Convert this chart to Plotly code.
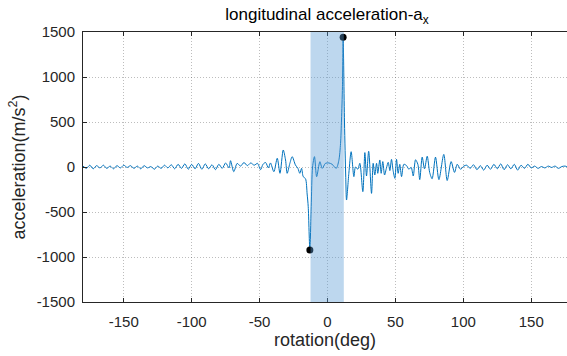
import plotly.graph_objects as go

# rotation (deg) and longitudinal acceleration (m/s^2)
rotation = [
    -180, -177.5, -175, -172.5, -170, -167.5, -165, -162.5, -160, -157.5,
    -155, -152.5, -150, -147.5, -145, -142.5, -140, -137.5, -135, -132.5,
    -130, -127.5, -125, -122.5, -120, -117.5, -115, -112.5, -110, -107.5,
    -105, -102.5, -100, -97.5, -95, -92.5, -90, -87.5, -85, -82.5,
    -80, -77.5, -75, -72.5, -71.4, -69, -66.5, -64, -61.5, -59, -56.5, -54, -51.5,
    -49.3, -47.5, -45.6, -43.5, -42, -39.5, -37, -35, -32.6, -30.9,
    -29.7, -27.7, -26, -23.6, -21.8, -20.4, -19.1, -17.9, -16.2, -15,
    -14.2, -13, -12, -11, -9.6, -8, -5.6, -3.9, -1.5, 1,
    3.4, 6.4, 8.3, 9.6, 10.3, 11, 11.5, 12.5, 13.4, 14,
    15.7, 17.4, 19.4, 20.6, 22.3, 23.8, 26, 27.5, 28.7, 30.3,
    32.4, 33.6, 34.8, 36.1, 37, 38.5, 39.5, 40.7, 42, 43.4,
    44.7, 45.9, 47.1, 48.3, 49.6, 50.8, 52, 53.2, 54.5, 56.2,
    58.2, 59.9, 61.6, 63.1, 64.8, 66.5, 67.9, 69.7, 71.4, 73.4,
    75.2, 77, 79.5, 82, 85.6, 88.1, 91, 93.5, 95.5, 97.9,
    100.3, 102.5, 105, 107.5, 110, 112.5, 115, 117.5, 120, 122.5,
    125, 127.5, 130, 132.5, 135, 137.5, 140, 142.5, 145, 147.5,
    150, 152.5, 155, 157.5, 160, 162.5, 165, 167.5, 170, 172.5,
    175, 177.5, 180,
]
acceleration = [
    10, -15, 20, -20, 15, -10, 20, -15, 10, -20,
    15, -10, 20, -5, 15, -15, 10, -20, 15, -10,
    5, -25, 10, -15, 20, -10, 25, -20, 30, -15,
    35, -25, 30, -20, 40, -25, 35, -20, 25, -30,
    30, -15, 45, -10, 70, -52, 40, 10, 50, 15, 45, 20, 40,
    -30, 30, 50, -10, 45, -52, 97, -70, 189, 78,
    -70, 41, 115, 22, -15, -70, -15, -107, -130, -300,
    -441, -922, -441, 0, 115, -107, 59, -15, 41, 45,
    30, -15, 70, 263, 522, 892, 1441, 500, -100, -367,
    -70, 170, -107, 0, -25, 41, -274, 160, -100, 175,
    -293, 41, -89, 41, -70, 78, -70, 60, -89, -10,
    52, -40, 85, -40, -126, 85, -70, 30, -107, 30,
    15, -25, -5, -100, 80, 30, -140, 110, -20, 120,
    -60, -130, 110, -140, 140, -150, 60, -60, 30, -25,
    10, 20, -15, 25, -30, 15, -35, 20, -25, 30,
    -20, 35, -30, 25, -20, 30, -35, 20, -15, 30,
    -10, 10, -15, 5, -10, 10, -5, 10, -15, 5,
    10, -5, 5,
]

# highlighted rotation window and extreme points
window_deg = [-12.5, 12]
extreme_rot = [-13, 11.5]
extreme_acc = [-922, 1441]

x_ticks = [-150, -100, -50, 0, 50, 100, 150]
x_tick_text = ["-150", "-100", "-50", "0", "50", "100", "150"]
y_ticks = [-1500, -1000, -500, 0, 500, 1000, 1500]
y_tick_text = ["-1500", "-1000", "-500", "0", "500", "1000", "1500"]

axis_col = "#262626"
grid_col = "rgba(38,38,38,0.3)"
font_fam = "Liberation Sans, Arial, sans-serif"

fig = go.Figure()
fig.add_trace(go.Scatter(
    x=rotation, y=acceleration, mode="lines",
    line=dict(color="#0072BD", width=1, shape="spline", smoothing=0.8),
    showlegend=False, hoverinfo="skip",
))
fig.add_trace(go.Scatter(
    x=extreme_rot, y=extreme_acc, mode="markers",
    marker=dict(color="black", size=7),
    showlegend=False,
))

fig.add_shape(
    type="rect", xref="x", yref="y",
    x0=window_deg[0], x1=window_deg[1], y0=-1500, y1=1500,
    fillcolor="rgb(91,155,213)", opacity=0.4, line_width=0, layer="above",
)

fig.update_layout(
    width=567, height=356,
    margin=dict(l=83, r=0, t=32, b=54),
    paper_bgcolor="white", plot_bgcolor="white",
    font=dict(family=font_fam, color=axis_col, size=15),
    title=dict(
        text="longitudinal acceleration-a<sub>x</sub>",
        x=327 / 567, xanchor="center", xref="container",
        y=1 - 14 / 356, yanchor="middle", yref="container",
        font=dict(size=17, color="black"),
    ),
)
fig.update_xaxes(
    range=[-180, 176.3], tickvals=x_ticks, ticktext=x_tick_text,
    showline=True, linecolor=axis_col, linewidth=1, mirror="ticks",
    ticks="inside", ticklen=4, tickcolor=axis_col,
    showgrid=True, gridcolor=grid_col, griddash="1px,2px", gridwidth=1,
    zeroline=False, ticklabelstandoff=6,
    title=dict(text="rotation(deg)", font=dict(size=18), standoff=4),
    tickfont=dict(size=15),
)
fig.update_yaxes(
    range=[-1500, 1500], tickvals=y_ticks, ticktext=y_tick_text,
    showline=True, linecolor=axis_col, linewidth=1, mirror=False,
    ticks="inside", ticklen=4, tickcolor=axis_col,
    showgrid=True, gridcolor=grid_col, griddash="1px,2px", gridwidth=1,
    zeroline=False, ticklabelstandoff=4,
    title=dict(text="acceleration(m/s<sup>2</sup>)", font=dict(size=18), standoff=6),
    tickfont=dict(size=15),
)

fig.write_html("out.html")
